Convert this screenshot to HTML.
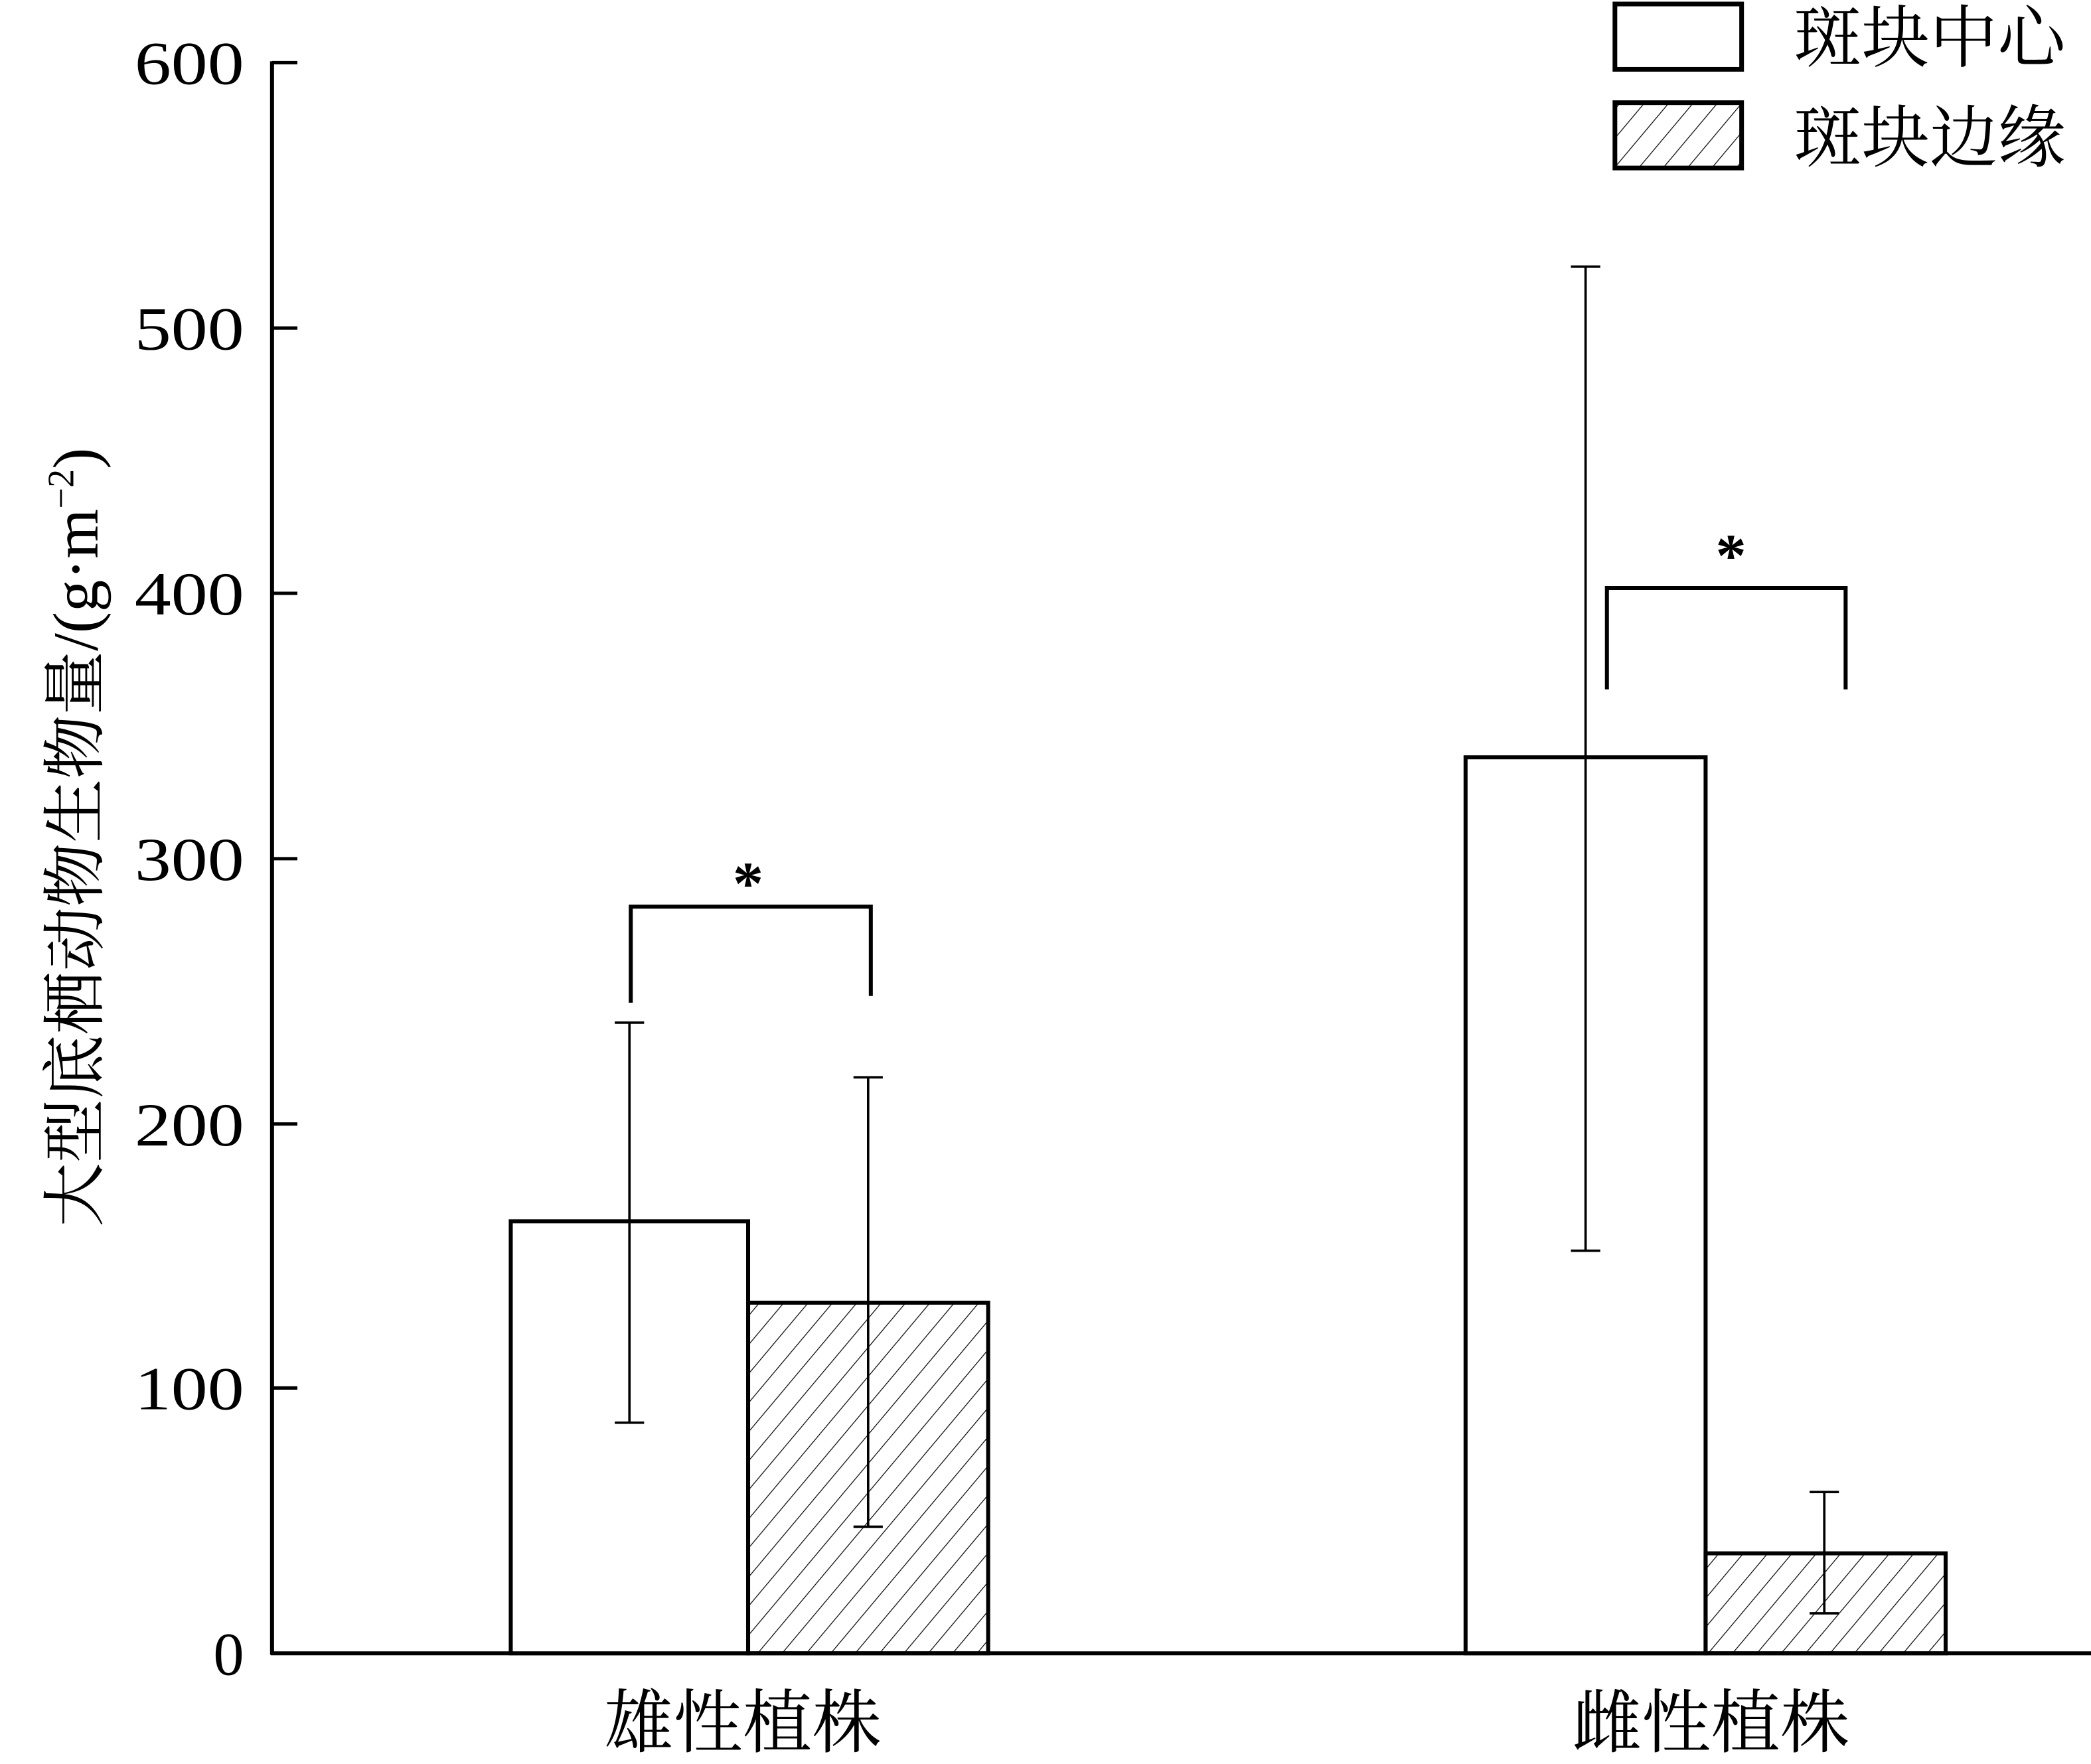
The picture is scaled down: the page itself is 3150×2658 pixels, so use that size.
<!DOCTYPE html>
<html><head><meta charset="utf-8"><style>html,body{margin:0;padding:0;background:#fff}svg{display:block}</style></head>
<body>
<svg width="3150" height="2658" viewBox="0 0 1568 1323" preserveAspectRatio="none" xmlns="http://www.w3.org/2000/svg">
<defs>
<pattern id="h" patternUnits="userSpaceOnUse" width="14" height="14" patternTransform="rotate(40)">
<line x1="0" y1="0" x2="0" y2="14" stroke="#000" stroke-width="1.2"/>
</pattern>
</defs>
<g font-family="Liberation Serif, 'Noto Serif CJK SC', serif" fill="#000">
<line x1="204" y1="46" x2="204" y2="1241" stroke="#000" stroke-width="3"/>
<line x1="203" y1="1240" x2="1568" y2="1240" stroke="#000" stroke-width="3"/>
<g stroke="#000" stroke-width="2.5">
<line x1="204" y1="1041" x2="223" y2="1041"/>
<line x1="204" y1="843" x2="223" y2="843"/>
<line x1="204" y1="644" x2="223" y2="644"/>
<line x1="204" y1="445" x2="223" y2="445"/>
<line x1="204" y1="246" x2="223" y2="246"/>
<line x1="204" y1="47" x2="223" y2="47"/>
</g>
<g font-size="46" text-anchor="end">
<text x="183" y="1256">0</text>
<text x="183" y="1057" textLength="82" lengthAdjust="spacingAndGlyphs">100</text>
<text x="183" y="859" textLength="82" lengthAdjust="spacingAndGlyphs">200</text>
<text x="183" y="660" textLength="82" lengthAdjust="spacingAndGlyphs">300</text>
<text x="183" y="461" textLength="82" lengthAdjust="spacingAndGlyphs">400</text>
<text x="183" y="262" textLength="82" lengthAdjust="spacingAndGlyphs">500</text>
<text x="183" y="63" textLength="82" lengthAdjust="spacingAndGlyphs">600</text>
</g>
<text transform="translate(73,628) rotate(-90)" font-size="48" text-anchor="middle">大型底栖动物生物量/(g·m<tspan dy="-18" font-size="28">−2</tspan><tspan dy="18">)</tspan></text>
<g stroke="#000" stroke-width="3">
<rect x="383" y="916" width="178" height="324" fill="#fff"/>
<rect x="561" y="977" width="180" height="263" fill="url(#h)"/>
<rect x="1099" y="568" width="180" height="672" fill="#fff"/>
<rect x="1279" y="1165" width="180" height="75" fill="url(#h)"/>
</g>
<g stroke="#000" stroke-width="1.8">
<line x1="472" y1="767" x2="472" y2="1067"/><line x1="461" y1="767" x2="483" y2="767"/><line x1="461" y1="1067" x2="483" y2="1067"/>
<line x1="651" y1="808" x2="651" y2="1145"/><line x1="640" y1="808" x2="662" y2="808"/><line x1="640" y1="1145" x2="662" y2="1145"/>
<line x1="1189" y1="200" x2="1189" y2="938"/><line x1="1178" y1="200" x2="1200" y2="200"/><line x1="1178" y1="938" x2="1200" y2="938"/>
<line x1="1368" y1="1119" x2="1368" y2="1210"/><line x1="1357" y1="1119" x2="1379" y2="1119"/><line x1="1357" y1="1210" x2="1379" y2="1210"/>
</g>
<g stroke="#000" stroke-width="3" fill="none">
<polyline points="473,752 473,680 653,680 653,747"/>
<polyline points="1205,517 1205,441 1384,441 1384,517"/>
</g>
<text x="561" y="678" font-size="46" font-weight="bold" text-anchor="middle">*</text>
<text x="1298" y="432" font-size="46" font-weight="bold" text-anchor="middle">*</text>
<g stroke="#000" stroke-width="3.5">
<rect x="1211" y="3" width="95" height="49" fill="#fff"/>
<rect x="1211" y="77" width="95" height="49" fill="url(#h)"/>
</g>
<text x="1345" y="46" font-size="51">斑块中心</text>
<text x="1345" y="121" font-size="51">斑块边缘</text>
<text x="557" y="1310" font-size="52" text-anchor="middle">雄性植株</text>
<text x="1283" y="1310" font-size="52" text-anchor="middle">雌性植株</text>
</g>
</svg>
</body></html>
